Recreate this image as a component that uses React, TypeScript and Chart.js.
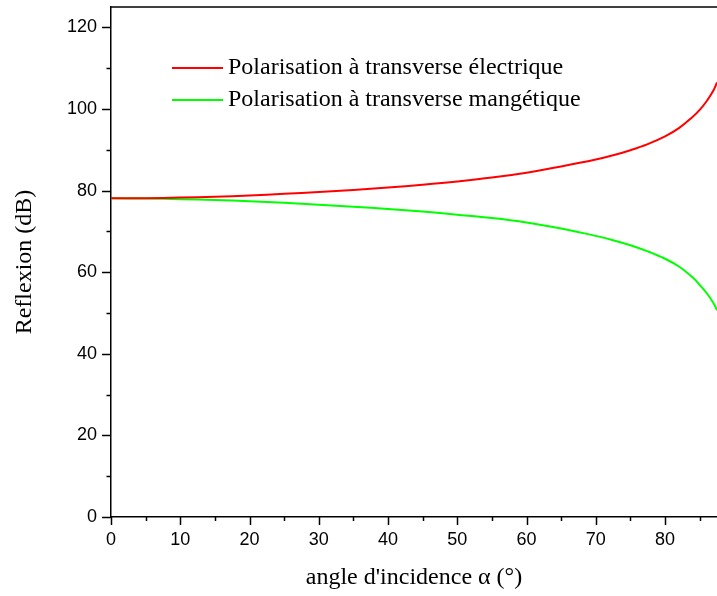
import React, { useEffect, useRef } from "react";
import { Chart, registerables } from "chart.js";

Chart.register(...registerables);

// ---- data ----
const angles = [0, 5, 10, 15, 20, 25, 30, 35, 40, 45, 50, 55, 60, 65, 70, 72.5, 75, 77.5, 80, 82, 84, 85, 86, 87, 87.5];
const teValues = [78.1, 78.15, 78.3, 78.5, 78.8, 79.2, 79.65, 80.15, 80.75, 81.45, 82.25, 83.2, 84.4, 85.9, 87.6, 88.65, 89.9, 91.4, 93.3, 95.3, 98.1, 99.8, 101.9, 104.6, 106.5];
const tmValues = [78.1, 78.05, 77.9, 77.7, 77.4, 77.0, 76.55, 76.05, 75.5, 74.85, 74.1, 73.3, 72.2, 70.7, 68.9, 67.85, 66.6, 65.1, 63.3, 61.4, 58.7, 56.9, 54.9, 52.4, 50.7];
const seriesLabels = ["Polarisation à transverse électrique", "Polarisation à transverse mangétique"];
const seriesColors = ["#ff0000", "#00ff00"];
const xTitle = "angle d'incidence α (°)";
const yTitle = "Reflexion (dB)";
const xMin = 0;
const xMax = 87.5;
const xMajorStep = 10;
const xMinorStep = 5;
const yMin = 0;
const yMax = 125;
const yMajorStep = 20;
const yMinorStep = 10;

const serif = "'Liberation Serif', 'Times New Roman', serif";
const sans = "'Liberation Sans', Arial, sans-serif";

const decorPlugin = {
  id: "decor",
  afterDraw(chart: any) {
    const { ctx, chartArea, scales } = chart;
    const xs = scales.x;
    const ys = scales.y;
    ctx.save();
    ctx.strokeStyle = "#000";
    ctx.lineWidth = 1.5;
    // top frame line
    ctx.beginPath();
    ctx.moveTo(chartArea.left, chartArea.top);
    ctx.lineTo(chartArea.right, chartArea.top);
    ctx.stroke();
    // x ticks
    for (let v = xMin; v <= xMax + 1e-9; v += xMinorStep) {
      const px = Math.round(xs.getPixelForValue(v)) + 0.5;
      const len = Math.abs(v % xMajorStep) < 1e-9 ? 8 : 4;
      ctx.beginPath();
      ctx.moveTo(px, chartArea.bottom);
      ctx.lineTo(px, chartArea.bottom + len);
      ctx.stroke();
    }
    // y ticks
    for (let v = yMin; v <= yMax + 1e-9; v += yMinorStep) {
      const py = Math.round(ys.getPixelForValue(v)) + 0.5;
      const len = Math.abs(v % yMajorStep) < 1e-9 ? 9 : 4.5;
      ctx.beginPath();
      ctx.moveTo(chartArea.left, py);
      ctx.lineTo(chartArea.left - len, py);
      ctx.stroke();
    }
    // legend
    const lx = chartArea.left + 61;
    const ly0 = chartArea.top + 61;
    const rowH = 32;
    chart.data.datasets.forEach((ds: any, i: number) => {
      const y = ly0 + i * rowH;
      ctx.strokeStyle = ds.borderColor;
      ctx.lineWidth = 2;
      ctx.beginPath();
      ctx.moveTo(lx, y);
      ctx.lineTo(lx + 51, y);
      ctx.stroke();
      ctx.fillStyle = "#000";
      ctx.font = `24px ${serif}`;
      ctx.textBaseline = "middle";
      ctx.textAlign = "left";
      ctx.fillText(ds.label, lx + 56, y);
    });
    ctx.restore();
  },
};

export default function App() {
  const canvasRef = useRef<HTMLCanvasElement | null>(null);

  useEffect(() => {
    const canvas = canvasRef.current;
    if (!canvas) return;
    const chart = new Chart(canvas, {
      type: "line",
      data: {
        datasets: [
          {
            label: seriesLabels[0],
            data: angles.map((a, i) => ({ x: a, y: teValues[i] })),
            borderColor: seriesColors[0],
            borderWidth: 2,
            pointRadius: 0,
            tension: 0.4,
            fill: false,
          },
          {
            label: seriesLabels[1],
            data: angles.map((a, i) => ({ x: a, y: tmValues[i] })),
            borderColor: seriesColors[1],
            borderWidth: 2,
            pointRadius: 0,
            tension: 0.4,
            fill: false,
          },
        ],
      },
      options: {
        animation: false,
        responsive: false,
        maintainAspectRatio: false,
        layout: { padding: { top: 7, right: 0, left: 0, bottom: 0 } },
        plugins: {
          legend: { display: false },
          tooltip: { enabled: false },
        },
        scales: {
          x: {
            type: "linear",
            min: xMin,
            max: xMax,
            border: { display: true, color: "#000", width: 1.5 },
            grid: { drawOnChartArea: false, drawTicks: true, tickLength: 8, tickColor: "rgba(0,0,0,0)" },
            ticks: {
              stepSize: xMajorStep,
              includeBounds: false,
              color: "#000",
              padding: 4,
              maxRotation: 0,
              font: { family: sans, size: 18 },
            },
            title: {
              display: true,
              text: xTitle,
              color: "#000",
              font: { family: serif, size: 24 },
              padding: { top: 0, bottom: 4 },
            },
            afterFit(scale: any) {
              scale.height = 79;
              scale.paddingLeft = 0;
              scale.paddingRight = 0;
            },
          },
          y: {
            type: "linear",
            min: yMin,
            max: yMax,
            border: { display: true, color: "#000", width: 1.5 },
            grid: { drawOnChartArea: false, drawTicks: true, tickLength: 9, tickColor: "rgba(0,0,0,0)" },
            ticks: {
              stepSize: yMajorStep,
              includeBounds: false,
              color: "#000",
              padding: 5,
              font: { family: sans, size: 18 },
            },
            title: {
              display: true,
              text: yTitle,
              color: "#000",
              font: { family: serif, size: 24 },
              padding: { top: 10, bottom: 0 },
            },
            afterFit(scale: any) {
              scale.width = 111;
              scale.paddingTop = 0;
              scale.paddingBottom = 0;
            },
          },
        },
      },
      plugins: [decorPlugin],
    } as any);
    return () => chart.destroy();
  }, []);

  return (
    <div style={{ position: "absolute", left: 0, top: 0, width: 717, height: 596 }}>
      <canvas ref={canvasRef} width={717} height={596} style={{ display: "block", width: 717, height: 596 }} />
    </div>
  );
}
